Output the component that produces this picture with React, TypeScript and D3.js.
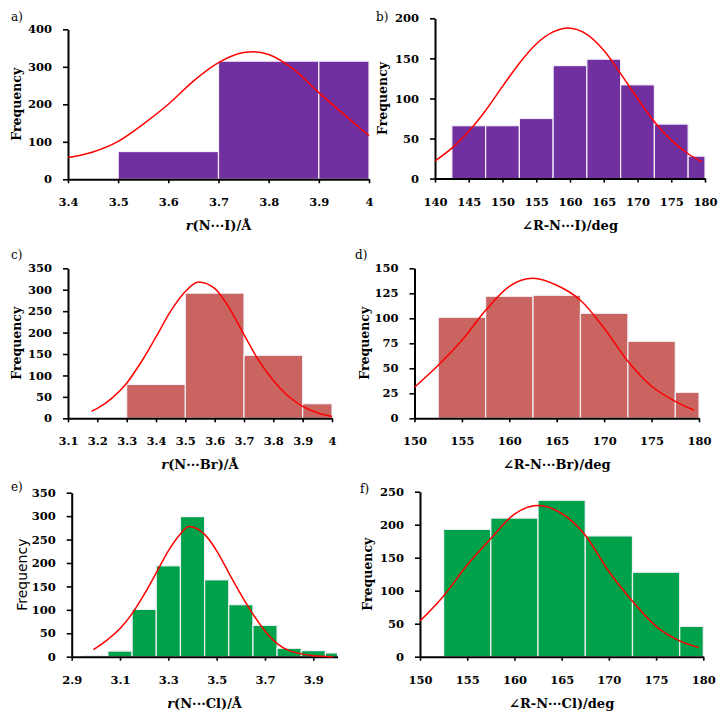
import { useRef, useEffect } from 'react'
import * as d3 from 'd3'

// a) r(N···I)
const aEdges = [3.5, 3.7, 3.9, 4.0]
const aCounts = [74, 315, 315]
const aFitX = [3.4, 3.45, 3.5, 3.55, 3.6, 3.65, 3.7, 3.75, 3.77, 3.8, 3.85, 3.9, 3.95, 4.0]
const aFitY = [58, 73, 101, 147, 200, 262, 311, 338, 340, 333, 293, 231, 173, 116]
const aXTicks = [3.4, 3.5, 3.6, 3.7, 3.8, 3.9, 4]
const aYTicks = [0, 100, 200, 300, 400]

// b) angle R-N···I
const bEdges = [142.5, 147.5, 152.5, 157.5, 162.5, 167.5, 172.5, 177.5, 180]
const bCounts = [66, 66, 75, 141, 149, 117, 68, 28]
const bFitX = [140, 142.5, 145, 147.5, 150, 152.5, 155, 157.5, 159.7, 162.5, 165, 167.5, 170, 172.5, 175, 177.5, 179.5]
const bFitY = [22, 38, 59, 85, 115, 144, 168, 183, 188, 180, 160, 131, 100, 71, 48, 31, 21]
const bXTicks = [140, 145, 150, 155, 160, 165, 170, 175, 180]
const bYTicks = [0, 50, 100, 150, 200]

// c) r(N···Br)
const cEdges = [3.3, 3.5, 3.7, 3.9, 4.0]
const cCounts = [79, 292, 147, 34]
const cFitX = [3.18, 3.2, 3.25, 3.3, 3.35, 3.4, 3.45, 3.5, 3.545, 3.6, 3.65, 3.7, 3.75, 3.8, 3.85, 3.9, 3.95, 4.0]
const cFitY = [16, 23, 47, 82, 132, 190, 250, 296, 318, 303, 257, 195, 135, 88, 52, 28, 13, 4]
const cXTicks = [3.1, 3.2, 3.3, 3.4, 3.5, 3.6, 3.7, 3.8, 3.9, 4]
const cYTicks = [0, 50, 100, 150, 200, 250, 300, 350]

// d) angle R-N···Br
const dEdges = [152.5, 157.5, 162.5, 167.5, 172.5, 177.5, 180]
const dCounts = [101, 122, 123, 105, 77, 26]
const dFitX = [150, 152.5, 155, 157.5, 160, 162.5, 165, 167.5, 170, 172.5, 175, 177.5, 179.5]
const dFitY = [31, 53, 78, 108, 132, 140, 133, 118, 90, 57, 32, 17, 8]
const dXTicks = [150, 155, 160, 165, 170, 175, 180]
const dYTicks = [0, 25, 50, 75, 100, 125, 150]

// e) r(N···Cl)
const eEdges = [2.95, 3.05, 3.15, 3.25, 3.35, 3.45, 3.55, 3.65, 3.75, 3.85, 3.95, 4.0]
const eCounts = [2, 12, 101, 194, 299, 164, 111, 67, 18, 13, 8]
const eFitX = [2.99, 3.05, 3.1, 3.15, 3.2, 3.25, 3.3, 3.35, 3.385, 3.45, 3.5, 3.55, 3.6, 3.65, 3.7, 3.75, 3.8, 3.85, 3.9, 3.98]
const eFitY = [15, 37, 60, 92, 133, 179, 226, 262, 278, 261, 226, 179, 133, 91, 55, 28, 13, 6, 2, 0]
const eXTicks = [2.9, 3.1, 3.3, 3.5, 3.7, 3.9]
const eYTicks = [0, 50, 100, 150, 200, 250, 300, 350]

// f) angle R-N···Cl
const fEdges = [152.5, 157.5, 162.5, 167.5, 172.5, 177.5, 180]
const fCounts = [193, 210, 237, 183, 128, 46]
const fFitX = [150, 152.5, 155, 157.5, 160, 162.5, 165, 167.5, 170, 172.5, 175, 177.5, 179.5]
const fFitY = [54, 92, 139, 179, 216, 229, 217, 184, 129, 84, 46, 24, 14]
const fXTicks = [150, 155, 160, 165, 170, 175, 180]
const fYTicks = [0, 50, 100, 150, 200, 250]

const PURPLE = '#7030a0'
const BRICK = '#c96461'
const GREEN = '#00a14b'
const SERIF = '"DejaVu Serif", serif'
const SANS = '"DejaVu Sans", sans-serif'

interface Panel {
  edges: number[]
  counts: number[]
  fitX: number[]
  fitY: number[]
  xTicks: number[]
  yTicks: number[]
  xDomain: [number, number]
  color: string
  box: [number, number, number, number] // left, right, top, bottom
  label: string
  labelPos: [number, number]
  title: [string, boolean][]
  freqX: number
  freqSans?: boolean
}

const panels: Panel[] = [
  {
    edges: aEdges, counts: aCounts, fitX: aFitX, fitY: aFitY, xTicks: aXTicks, yTicks: aYTicks,
    xDomain: [3.4, 4], color: PURPLE, box: [68, 369, 29.3, 179.3],
    label: 'a)', labelPos: [11, 21], title: [['r', true], ['(N···I)/Å', false]], freqX: 17,
  },
  {
    edges: bEdges, counts: bCounts, fitX: bFitX, fitY: bFitY, xTicks: bXTicks, yTicks: bYTicks,
    xDomain: [140, 180], color: PURPLE, box: [435, 705, 18.3, 178.6],
    label: 'b)', labelPos: [376, 21], title: [['∠R-N···I)/deg', false]], freqX: 383,
  },
  {
    edges: cEdges, counts: cCounts, fitX: cFitX, fitY: cFitY, xTicks: cXTicks, yTicks: cYTicks,
    xDomain: [3.1, 4], color: BRICK, box: [68, 332, 268.3, 418.3],
    label: 'c)', labelPos: [11, 259], title: [['r', true], ['(N···Br)/Å', false]], freqX: 17,
  },
  {
    edges: dEdges, counts: dCounts, fitX: dFitX, fitY: dFitY, xTicks: dXTicks, yTicks: dYTicks,
    xDomain: [150, 180], color: BRICK, box: [414.5, 699, 268.3, 418.3],
    label: 'd)', labelPos: [355, 259], title: [['∠R-N···Br)/deg', false]], freqX: 365,
  },
  {
    edges: eEdges, counts: eCounts, fitX: eFitX, fitY: eFitY, xTicks: eXTicks, yTicks: eYTicks,
    xDomain: [2.9, 4], color: GREEN, box: [71.7, 337.5, 492.7, 656.7],
    label: 'e)', labelPos: [11, 491], title: [['r', true], ['(N···Cl)/Å', false]], freqX: 22, freqSans: true,
  },
  {
    edges: fEdges, counts: fCounts, fitX: fFitX, fitY: fFitY, xTicks: fXTicks, yTicks: fYTicks,
    xDomain: [150, 180], color: GREEN, box: [420, 703.3, 491.7, 656.7],
    label: 'f)', labelPos: [360, 493], title: [['∠R-N···Cl)/deg', false]], freqX: 368,
  },
]

function drawPanel(svg: d3.Selection<SVGSVGElement, unknown, null, undefined>, p: Panel) {
  const [left, right, top, bottom] = p.box
  const yMax = p.yTicks[p.yTicks.length - 1]
  const x = d3.scaleLinear().domain(p.xDomain).range([left, right])
  const y = d3.scaleLinear().domain([0, yMax]).range([bottom, top])
  const g = svg.append('g')

  // histogram bars
  g.selectAll('rect')
    .data(p.counts)
    .enter()
    .append('rect')
    .attr('x', (_, i) => x(p.edges[i]))
    .attr('width', (_, i) => x(p.edges[i + 1]) - x(p.edges[i]))
    .attr('y', (d) => y(d))
    .attr('height', (d) => y(0) - y(d))
    .attr('fill', p.color)
    .attr('stroke', '#f4f0f8')
    .attr('stroke-width', 1.2)

  // axes
  const xAxis = d3
    .axisBottom(x)
    .tickValues(p.xTicks)
    .tickSizeInner(4)
    .tickSizeOuter(0)
    .tickPadding(15)
    .tickFormat((d) => String(d))
  const yAxis = d3
    .axisLeft(y)
    .tickValues(p.yTicks)
    .tickSizeInner(5)
    .tickSizeOuter(0)
    .tickPadding(11)
    .tickFormat((d) => String(d))

  for (const [axis, tr] of [
    [xAxis, `translate(0,${bottom})`],
    [yAxis, `translate(${left},0)`],
  ] as const) {
    const ag = g.append('g').attr('transform', tr).call(axis as any)
    ag.select('.domain').attr('stroke', '#000').attr('stroke-width', 2)
    ag.selectAll('.tick line').attr('stroke', '#000').attr('stroke-width', 1.6)
    ag.selectAll('text')
      .attr('fill', '#000')
      .style('font-family', SERIF)
      .style('font-weight', 'bold')
      .style('font-size', '11.5px')
  }

  // fitted normal curve
  const line = d3
    .line<number>()
    .x((_, i) => x(p.fitX[i]))
    .y((d) => y(d))
    .curve(d3.curveMonotoneX)
  g.append('path')
    .attr('d', line(p.fitY))
    .attr('fill', 'none')
    .attr('stroke', '#ff0000')
    .attr('stroke-width', 1.5)

  // axis title
  const t = g.append('text')
    .attr('x', (left + right) / 2)
    .attr('y', bottom + 51)
    .attr('text-anchor', 'middle')
    .style('font-family', SERIF)
    .style('font-weight', 'bold')
    .style('font-size', '13px')
  p.title.forEach(([s, it]) => {
    t.append('tspan').text(s).style('font-style', it ? 'italic' : 'normal')
  })

  // Frequency
  g.append('text')
    .attr('transform', `translate(${p.freqX},${(top + bottom) / 2}) rotate(-90)`)
    .attr('text-anchor', 'middle')
    .attr('dy', '0.35em')
    .style('font-family', p.freqSans ? SANS : SERIF)
    .style('font-weight', p.freqSans ? 'normal' : 'bold')
    .style('font-size', p.freqSans ? '14px' : '12.5px')
    .text('Frequency')

  // panel letter
  g.append('text')
    .attr('x', p.labelPos[0])
    .attr('y', p.labelPos[1])
    .style('font-family', SERIF)
    .style('font-size', '12px')
    .text(p.label)
}

export default function App() {
  const ref = useRef<SVGSVGElement>(null)

  useEffect(() => {
    if (!ref.current) return
    const svg = d3.select(ref.current)
    svg.selectAll('*').remove()
    panels.forEach((p) => drawPanel(svg, p))
  }, [])

  return (
    <svg
      ref={ref}
      width={725}
      height={721}
      style={{ position: 'absolute', left: 0, top: 0, background: '#fff' }}
    />
  )
}
